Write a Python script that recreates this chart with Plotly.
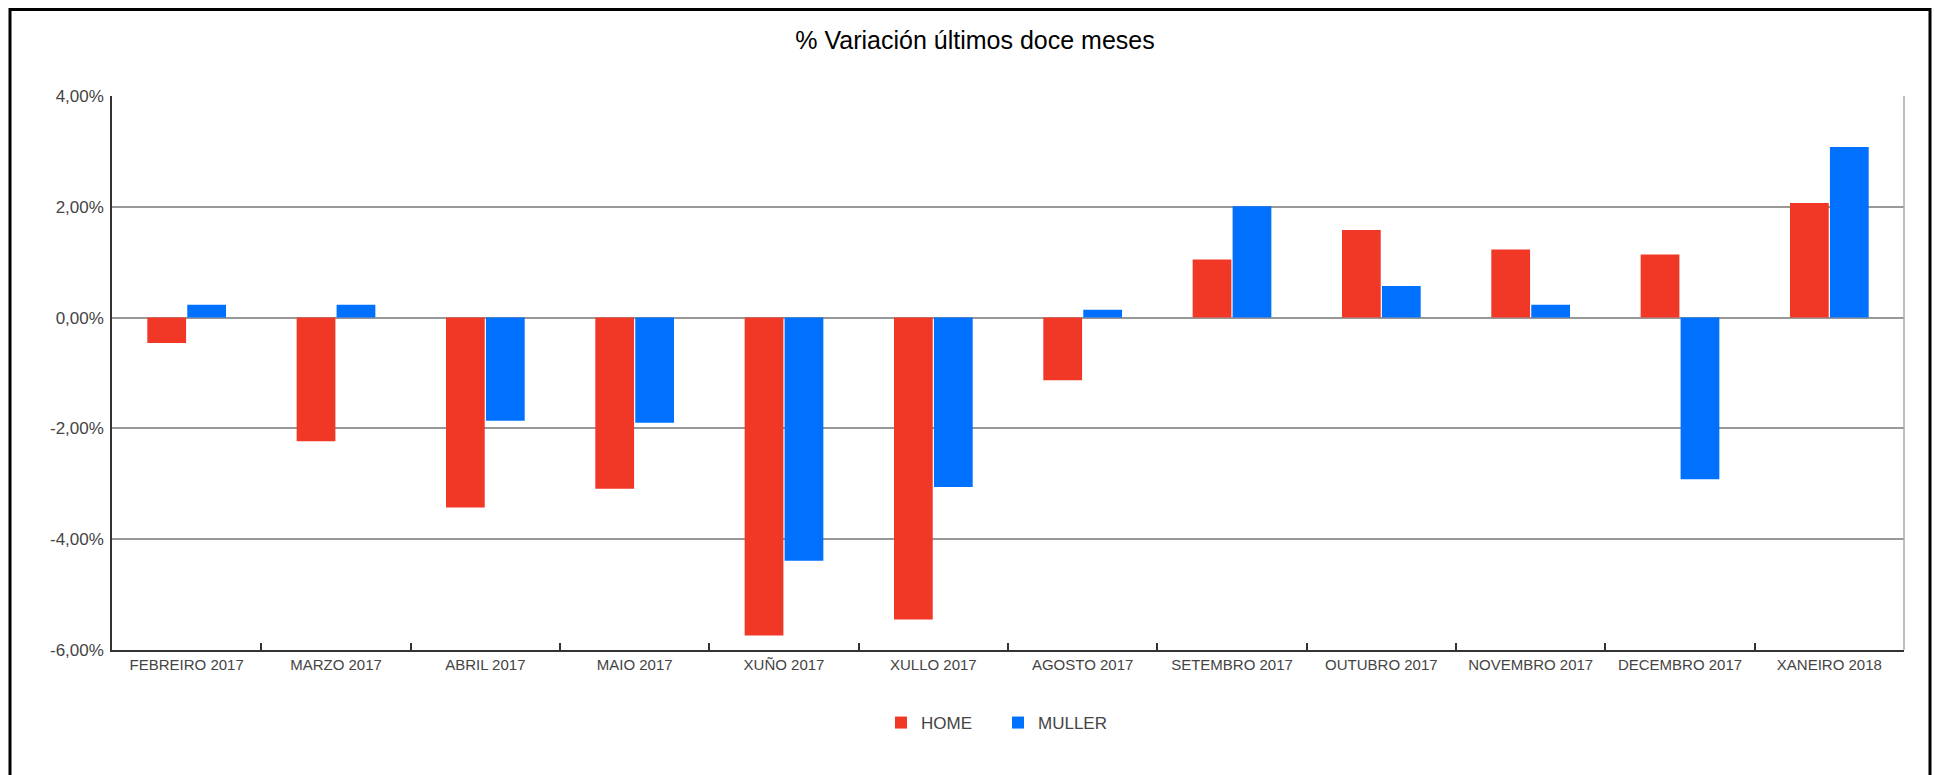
import plotly.graph_objects as go

categories = ["FEBREIRO 2017", "MARZO 2017", "ABRIL 2017", "MAIO 2017", "XUÑO 2017",
              "XULLO 2017", "AGOSTO 2017", "SETEMBRO 2017", "OUTUBRO 2017",
              "NOVEMBRO 2017", "DECEMBRO 2017", "XANEIRO 2018"]
home = [-0.46, -2.23, -3.43, -3.09, -5.74, -5.45, -1.13, 1.05, 1.58, 1.23, 1.14, 2.07]
muller = [0.23, 0.23, -1.86, -1.90, -4.39, -3.06, 0.14, 2.01, 0.57, 0.23, -2.92, 3.08]
y_tickvals = [-6, -4, -2, 0, 2, 4]
y_ticktext = ["-6,00%", "-4,00%", "-2,00%", "0,00%", "2,00%", "4,00%"]

FONT = "Liberation Sans, Arial, sans-serif"
W, H = 1935, 775
L, R, T, B = 112, 31, 96, 125
pw, ph = W - L - R, H - T - B

fig = go.Figure()
fig.add_trace(go.Bar(x=categories, y=home, name="HOME", marker=dict(color="#f13826", line_width=0)))
fig.add_trace(go.Bar(x=categories, y=muller, name="MULLER", marker=dict(color="#0070ff", line_width=0)))

def px_x(p):
    return (p - L) / pw

def px_y(p):
    return (H - B - p) / ph

fig.update_layout(
    width=W, height=H,
    margin=dict(l=L, r=R, t=T, b=B, pad=0),
    paper_bgcolor="white", plot_bgcolor="white",
    barmode="group", bargap=0.465, bargroupgap=0.03,
    font=dict(family=FONT, color="#444444"),
    title=dict(text="% Variación últimos doce meses", x=975 / W, xref="container", xanchor="center",
               y=1 - 40.5 / H, yref="container", yanchor="middle",
               font=dict(family=FONT, size=25, color="#000000")),
    showlegend=True,
    legend=dict(orientation="h", x=px_x(998), xanchor="center", y=px_y(723), yanchor="middle",
                font=dict(family=FONT, size=17, color="#444444"),
                entrywidth=72, entrywidthmode="pixels", bgcolor="rgba(0,0,0,0)"),
    xaxis=dict(showgrid=False, showline=True, linecolor="#333333", linewidth=1.5,
               ticks="inside", tickson="boundaries", ticklen=7, tickcolor="#333333", tickwidth=1.5,
               tickfont=dict(family=FONT, size=15, color="#444444"), fixedrange=True),
    yaxis=dict(range=[-6, 4], tickvals=y_tickvals, ticktext=y_ticktext, showgrid=True,
               gridcolor="#999999", gridwidth=1.5, zeroline=False,
               showline=True, linecolor="#333333", linewidth=1.5, ticks="",
               ticklabelstandoff=3,
               tickfont=dict(family=FONT, size=17, color="#444444"), fixedrange=True),
    shapes=[
        dict(type="line", xref="paper", yref="paper", x0=1, x1=1, y0=0, y1=1,
             line=dict(color="#aaaaaa", width=1.5)),
        dict(type="rect", xref="paper", yref="paper",
             x0=px_x(10), x1=px_x(1930), y0=px_y(790), y1=px_y(9.5),
             line=dict(color="#000000", width=3), fillcolor="rgba(0,0,0,0)", layer="above"),
    ],
)

fig.write_html("out.html", config={"displayModeBar": False},
               post_script="document.body.style.margin='0';document.body.style.overflow='hidden';")
